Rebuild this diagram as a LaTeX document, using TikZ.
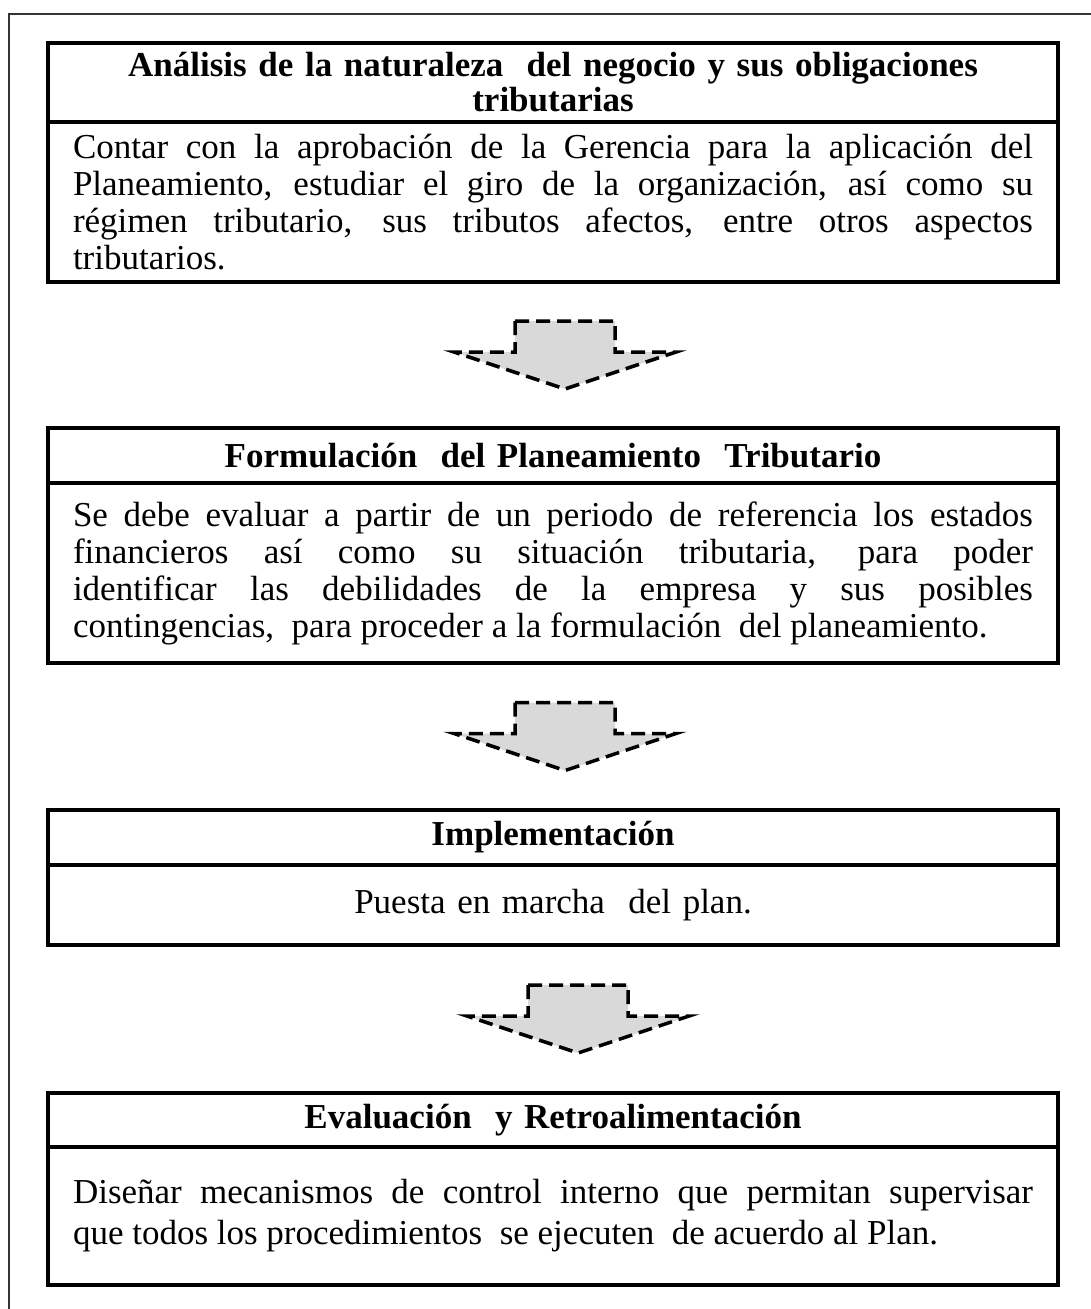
\documentclass[tikz,border=0pt]{standalone}
\usepackage{fontspec}
\setmainfont{Liberation Serif}
\usetikzlibrary{positioning, calc}
\hyphenpenalty=10000
\exhyphenpenalty=10000
\tolerance=9999
\emergencystretch=3em

\tikzset{
	titulo/.style={draw, line width=4pt, outer sep=0pt, minimum width=1010pt, text width=960pt, inner xsep=25pt, inner ysep=0pt, align=center, font=\fontsize{35}{35}\selectfont\bfseries},
	cuerpo/.style={draw, line width=4pt, outer sep=0pt, minimum width=1010pt, text width=960pt, inner xsep=25pt, inner ysep=0pt, align=justify, font=\fontsize{35}{37}\selectfont},
	flecha/.style={line width=3.5pt, dash pattern=on 14pt off 7pt, fill=gray!30}
}
% flecha hueca hacia abajo, centrada en #1
\newcommand{\flechabaja}[1]{%
	\draw[flecha] (#1) ++(-50,-34) -- ++(100,0) -- ++(0,31) -- ++(61,0) -- ++(-111,37) -- ++(-111,-37) -- ++(61,0) -- cycle;}

\begin{document}
\begin{tikzpicture}[x=1pt, y=-1pt]
	\useasboundingbox (0,0) rectangle (1091,1309);
	% marco exterior
	\draw[line width=2pt, black!80] (9,1309) -- (9,14) -- (1091,14);

	\node[titulo, minimum height=79pt, anchor=north] (t1) at (553,43) {An\'alisis de la naturaleza\ \ del negocio y sus obligaciones\\ tributarias};
	\node[cuerpo, minimum height=160pt, below=0pt of t1] (c1) {Contar con la aprobaci\'on de la Gerencia para la aplicaci\'on del\linebreak Planeamiento, estudiar el giro de la organizaci\'on, as\'i como su\linebreak r\'egimen tributario, sus tributos afectos, entre otros aspectos\linebreak tributarios.};

	\node[titulo, minimum height=55pt, anchor=north] (t2) at (553,428) {Formulaci\'on\ \ del Planeamiento\ \ Tributario};
	\node[cuerpo, minimum height=180pt, below=0pt of t2] (c2) {Se debe evaluar a partir de un periodo de referencia los estados\linebreak financieros as\'i como su situaci\'on tributaria, para poder\linebreak identificar las debilidades de la empresa y sus posibles\linebreak contingencias,\ \ para proceder a la formulaci\'on\ \ del planeamiento.};

	\node[titulo, minimum height=55pt, anchor=north] (t3) at (553,810) {Implementaci\'on};
	\node[cuerpo, minimum height=80pt, below=0pt of t3, align=center] (c3) {Puesta en marcha\ \ del plan.};

	\node[titulo, minimum height=54pt, anchor=north] (t4) at (553,1093) {Evaluaci\'on\ \ y Retroalimentaci\'on};
	\node[cuerpo, minimum height=138pt, below=0pt of t4, font=\fontsize{35}{41}\selectfont] (c4) {Dise\~nar mecanismos de control interno que permitan supervisar\linebreak que todos los procedimientos\ \ se ejecuten\ \ de acuerdo al Plan.};

	% flechas entre bloques
	\coordinate (f1) at ($(c1.south)!0.5!(t2.north)+(12,0)$);
	\coordinate (f2) at ($(c2.south)!0.5!(t3.north)+(12,0)$);
	\coordinate (f3) at ($(c3.south)!0.5!(t4.north)+(25,0)$);
	\flechabaja{f1}
	\flechabaja{f2}
	\flechabaja{f3}
\end{tikzpicture}
\end{document}
